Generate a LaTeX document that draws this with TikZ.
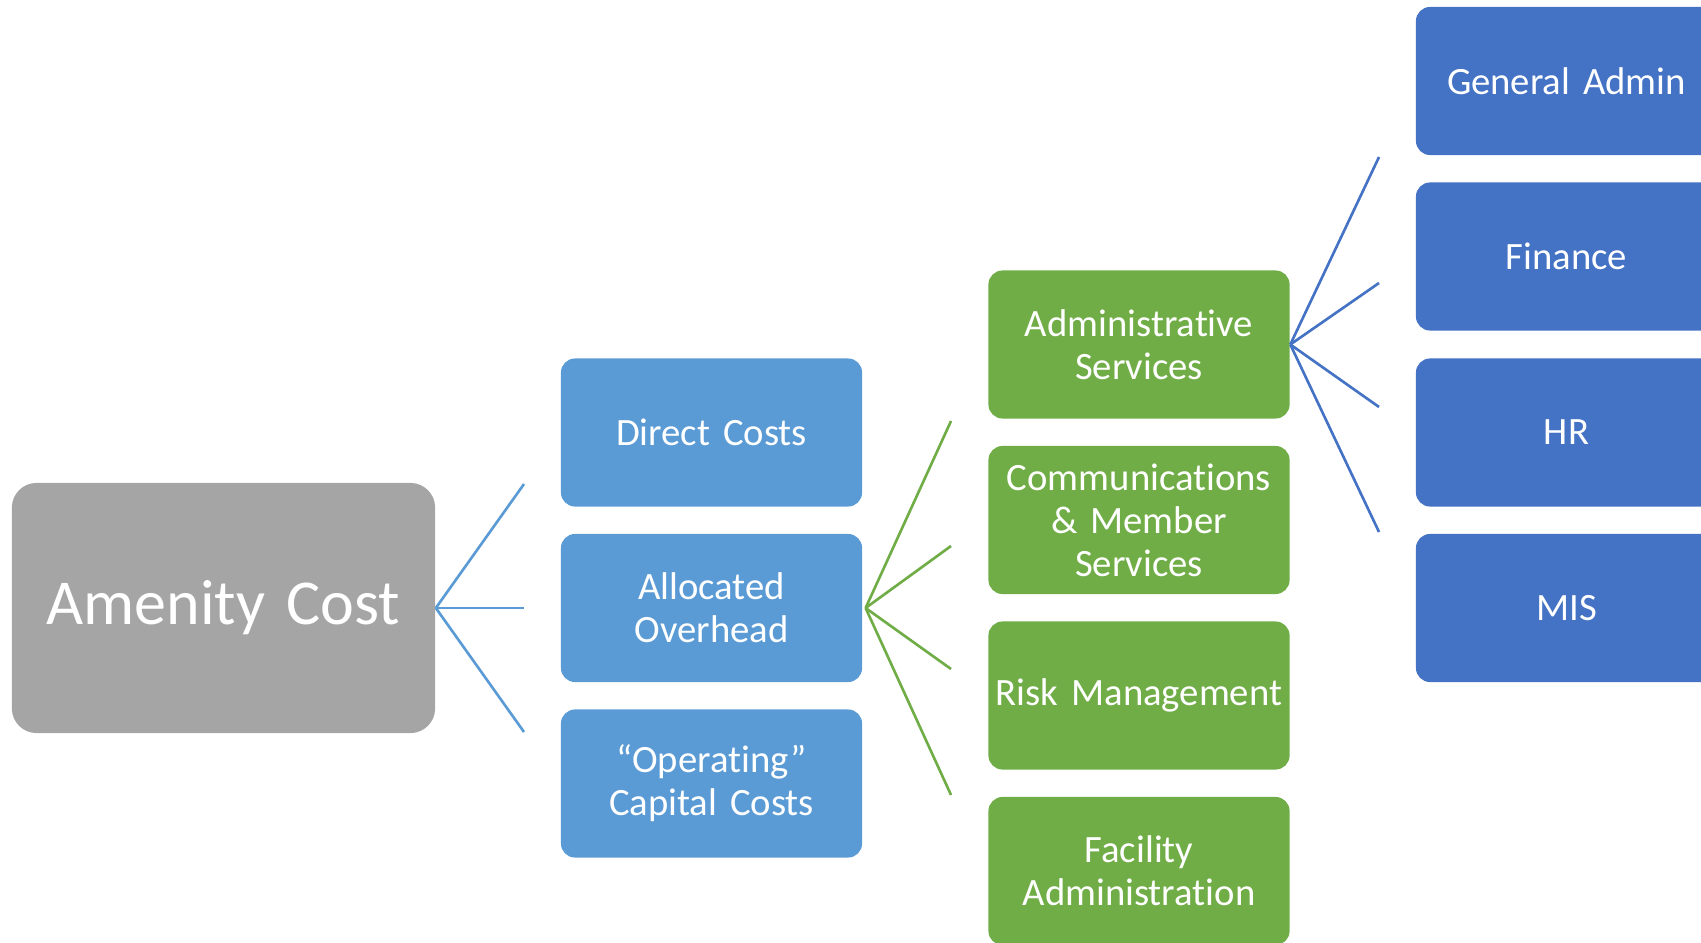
\documentclass[tikz,border=0pt]{standalone}
\usepackage{fontspec}
\setmainfont[Ligatures={NoCommon,NoContextual},WordSpace=0.8]{Carlito}
\definecolor{costgray}{HTML}{A5A5A5}
\definecolor{partblue}{HTML}{5B9BD5}
\definecolor{ohgreen}{HTML}{70AD47}
\definecolor{deptblue}{HTML}{4472C4}
\begin{document}
\begin{tikzpicture}[x=0.01cm,y=-0.01cm,
    box/.style={rounded corners=4pt, text=white, align=center, inner sep=0pt,
      minimum width=3.01cm, minimum height=1.48cm, text width=2.95cm,
      font=\fontsize{11}{12.2}\selectfont},
    fork/.style={line width=0.75pt}]
        \useasboundingbox (0,0) rectangle (1701,943);
        \clip (0,0) rectangle (1701,943);
        % root
        \node [box, fill=costgray, rounded corners=7pt, minimum width=4.23cm, minimum height=2.5cm, text width=4.1cm,
          font=\fontsize{18.2}{21}\selectfont] (cost) at (223.5,608) {Amenity Cost};
        % cost parts
        \node [box, fill=partblue] (direct) at (711.5,432.5) {Direct Costs};
        \node [box, fill=partblue] (overhead) at (711.5,608) {Allocated\\Overhead};
        \node [box, fill=partblue] (capital) at (711.5,783.5) {``Operating''\\Capital Costs};
        % overhead
        \node [box, fill=ohgreen] (admin) at (1139,344.5) {Administrative\\Services};
        \node [box, fill=ohgreen] (comms) at (1139,520) {Communications\\\& Member\\Services};
        \node [box, fill=ohgreen] (risk) at (1139,695.5) {Risk Management};
        \node [box, fill=ohgreen] (facility) at (1139,871) {Facility\\Administration};
        % admin services
        \node [box, fill=deptblue] (general) at (1566.5,81) {General Admin};
        \node [box, fill=deptblue] (finance) at (1566.5,256.5) {Finance};
        \node [box, fill=deptblue] (hr) at (1566.5,432.5) {HR};
        \node [box, fill=deptblue] (mis) at (1566.5,608) {MIS};
        % fork ends
        \coordinate (c1) at (524,484);\coordinate (c2) at (524,608);\coordinate (c3) at (524,732);
        \coordinate (o1) at (951,421);\coordinate (o2) at (951,546);\coordinate (o3) at (951,669);\coordinate (o4) at (951,795);
        \coordinate (a1) at (1379,157);\coordinate (a2) at (1379,283);\coordinate (a3) at (1379,407);\coordinate (a4) at (1379,532);
        % forks
        \foreach \e in {c1,c2,c3} \draw [fork, partblue] (cost.east) -- (\e);
        \foreach \e in {o1,o2,o3,o4} \draw [fork, ohgreen] ([xshift=0.8pt]overhead.east) -- (\e);
        \foreach \e in {a1,a2,a3,a4} \draw [fork, deptblue] (admin.east) -- (\e);
    \end{tikzpicture}
\end{document}
